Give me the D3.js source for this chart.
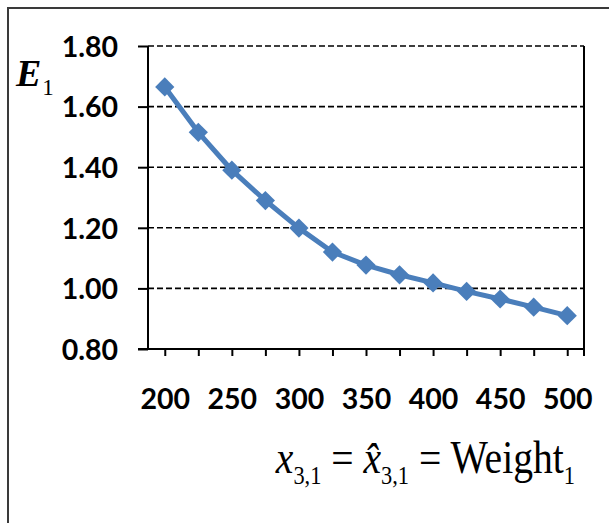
<!DOCTYPE html>
<html>
<head>
<meta charset="utf-8">
<script src="https://cdn.jsdelivr.net/npm/d3@7"></script>
<style>
  body { margin: 0; background: #fff; }
  svg { display: block; }
  .tick-label { font-family: Lato, "Open Sans", sans-serif; font-weight: 700; font-size: 28.5px; fill: #000; }
</style>
</head>
<body>
<svg id="chart" width="609" height="523"></svg>
<script>
// weight categories and E1 values
const weights = [200, 225, 250, 275, 300, 325, 350, 375, 400, 425, 450, 475, 500];
const e1Values = [1.665, 1.515, 1.39, 1.29, 1.199, 1.12, 1.077, 1.045, 1.018, 0.99, 0.965, 0.938, 0.91];
const yTicks = [0.8, 1.0, 1.2, 1.4, 1.6, 1.8];
const xLabels = [200, 250, 300, 350, 400, 450, 500];

let svg = d3.select("#chart");
let plotLeft = 148, plotRight = 584, plotTop = 46, plotBottom = 349;

// outer frame (cut off at right and bottom like the picture)
svg.append("rect")
    .attr("x", 8).attr("y", 8)
    .attr("width", 640).attr("height", 560)
    .attr("fill", "none")
    .attr("stroke", "#3a3a3a")
    .attr("stroke-width", 2);

let x = d3.scalePoint().domain(weights).range([plotLeft, plotRight]).padding(0.5);
let y = d3.scaleLinear().domain([0.8, 1.8]).range([plotBottom, plotTop]);

// dashed gridlines
svg.append("g").selectAll("line")
    .data(yTicks.slice(1))
    .enter().append("line")
    .attr("x1", plotLeft).attr("x2", plotRight)
    .attr("y1", d => y(d)).attr("y2", d => y(d))
    .attr("stroke", "#000")
    .attr("stroke-width", 1.6)
    .attr("stroke-dasharray", "6,3");

// right border of plot area
svg.append("line")
    .attr("x1", plotRight).attr("x2", plotRight)
    .attr("y1", y(1.8)).attr("y2", plotBottom + 7)
    .attr("stroke", "#000").attr("stroke-width", 2);

// y axis
let yAxis = svg.append("g")
    .attr("transform", "translate(" + plotLeft + ",0)")
    .call(d3.axisLeft(y).tickValues(yTicks).tickSize(10).tickPadding(20).tickFormat(d3.format(".2f")));
yAxis.select(".domain").attr("stroke-width", 2).attr("d", "M0," + y(1.8) + "V" + plotBottom);
yAxis.selectAll(".tick line").attr("stroke-width", 2);
yAxis.selectAll("text").attr("class", "tick-label").attr("dy", "0.36em");

// x axis
let xAxis = svg.append("g")
    .attr("transform", "translate(0," + plotBottom + ")")
    .call(d3.axisBottom(x).tickSize(7).tickSizeOuter(0)
        .tickFormat(d => xLabels.includes(d) ? d : ""));
xAxis.select(".domain").attr("stroke-width", 2).attr("d", "M" + (plotLeft - 10) + ",0H" + plotRight);
xAxis.selectAll(".tick line").attr("stroke-width", 2);
xAxis.selectAll("text").attr("class", "tick-label").attr("y", 60).attr("dy", 0);

// data line
let line = d3.line()
    .x((d, i) => x(weights[i]))
    .y(d => y(d));
svg.append("path")
    .datum(e1Values)
    .attr("d", line)
    .attr("fill", "none")
    .attr("stroke", "#4a7ebb")
    .attr("stroke-width", 5)
    .attr("stroke-linejoin", "round");

// diamond markers
svg.append("g").selectAll("path")
    .data(e1Values)
    .enter().append("path")
    .attr("d", d3.symbol(d3.symbolSquare, 185))
    .attr("transform", (d, i) => "translate(" + x(weights[i]) + "," + y(d) + ") rotate(45)")
    .attr("fill", "#4a7ebb");

// y label E_1
let yLab = svg.append("text")
    .attr("x", 16).attr("y", 86)
    .attr("font-family", "Liberation Serif, Times New Roman, serif")
    .attr("fill", "#000");
yLab.append("tspan").attr("font-size", 38).attr("font-style", "italic").attr("font-weight", 700).text("E");
yLab.append("tspan").attr("font-size", 23).attr("dy", 9).attr("dx", 1).text("1");

// x label: x_{3,1} = x̂_{3,1} = Weight_1
let xLab = svg.append("g");
let xt = xLab.append("text")
    .attr("x", 0).attr("y", 0)
    .attr("font-family", "Liberation Serif, Times New Roman, serif")
    .attr("font-size", 46)
    .attr("fill", "#000");
xt.append("tspan").attr("font-style", "italic").text("x");
xt.append("tspan").attr("font-size", 26).attr("dy", 11).text("3,1");
xt.append("tspan").attr("dy", -11).text(" = ");
xt.append("tspan").attr("font-style", "italic").text("x\u0302");
xt.append("tspan").attr("font-size", 26).attr("dy", 11).text("3,1");
xt.append("tspan").attr("dy", -11).text(" = Weight");
xt.append("tspan").attr("font-size", 26).attr("dy", 11).text("1");
let bb = xt.node().getBBox();
let sx = 300 / bb.width;
xLab.attr("transform", "translate(" + (275 - bb.x * sx) + ",473) scale(" + sx + ",1)");
</script>
</body>
</html>
